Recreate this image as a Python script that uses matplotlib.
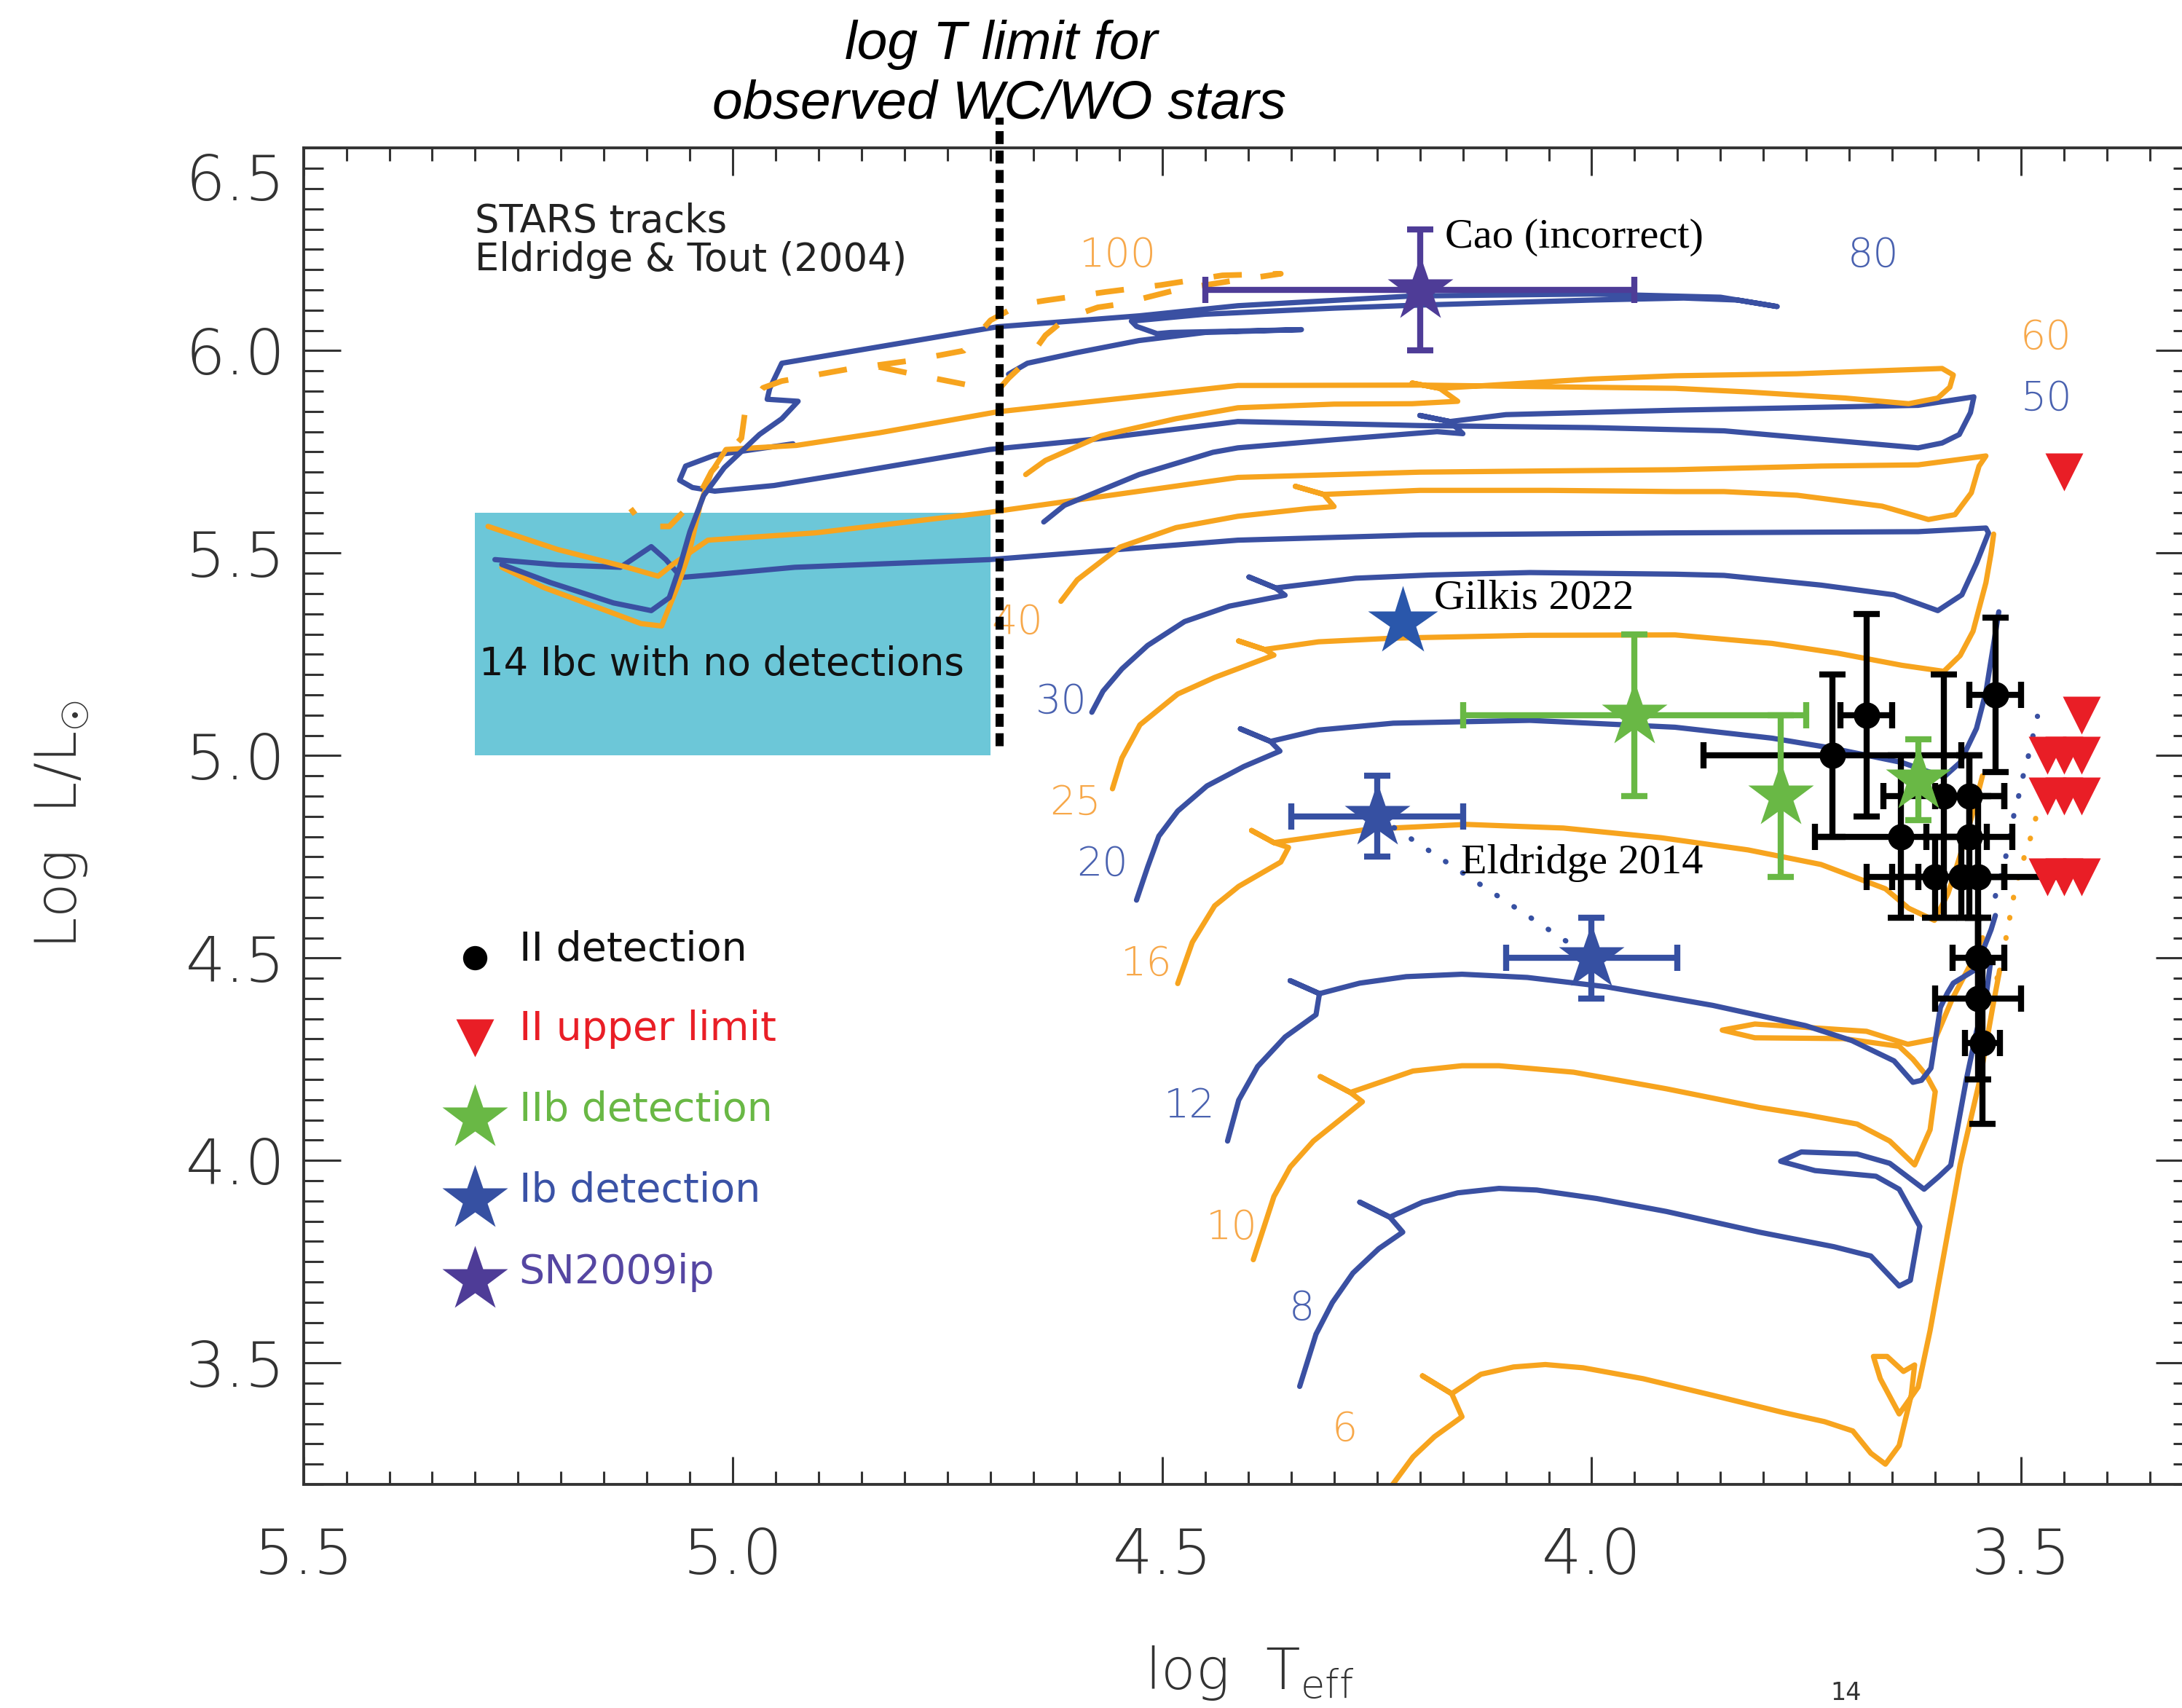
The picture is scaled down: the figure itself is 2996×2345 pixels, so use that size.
import matplotlib
matplotlib.use('Agg')
import matplotlib.pyplot as plt
from matplotlib.patches import Rectangle
from matplotlib.ticker import MultipleLocator, FixedLocator, FuncFormatter

plt.rcParams['font.family'] = ['DejaVu Sans']
plt.rcParams['font.weight'] = 'normal'
plt.rcParams['mathtext.fontset'] = 'custom'
plt.rcParams['mathtext.rm'] = 'DejaVu Sans:light'
plt.rcParams['mathtext.it'] = 'DejaVu Sans:italic:light'
plt.rcParams['mathtext.bf'] = 'DejaVu Sans:bold'

ORANGE = '#F7A41E'
BLUE = '#3A50A2'
BLUE_TXT = '#4A62B0'
ORANGE_TXT = '#F7A84A'
GREEN = '#69B845'
RED = '#E91E26'
PURPLE = '#4E3C97'
IB_BLUE = '#3650A2'
GILKIS_BLUE = '#2A57AB'
CYAN = '#6CC7D8'
GREY = '#333333'

# ---------------- STARS evolutionary tracks (log Teff, log L) ----------------
t6_T = [4.249, 4.232, 4.208, 4.183, 4.151, 4.163, 4.197, 4.163, 4.129, 4.091, 4.054, 4.010, 3.940, 3.859, 3.778, 3.729, 3.696, 3.675, 3.658, 3.642, 3.628, 3.624, 3.637, 3.656, 3.672, 3.664, 3.642, 3.620, 3.606, 3.571, 3.548, 3.533, 3.525]
t6_L = [3.150, 3.199, 3.268, 3.318, 3.367, 3.424, 3.468, 3.424, 3.472, 3.490, 3.496, 3.488, 3.461, 3.420, 3.378, 3.355, 3.332, 3.277, 3.250, 3.296, 3.420, 3.495, 3.479, 3.516, 3.516, 3.461, 3.374, 3.440, 3.580, 3.990, 4.200, 4.380, 4.470]

t8_T = [4.340, 4.321, 4.302, 4.278, 4.248, 4.220, 4.235, 4.270, 4.235, 4.197, 4.156, 4.108, 4.064, 3.994, 3.913, 3.805, 3.718, 3.675, 3.642, 3.629, 3.618, 3.642, 3.669, 3.740, 3.780, 3.756, 3.691, 3.653, 3.613, 3.596, 3.582, 3.564, 3.552, 3.541, 3.535]
t8_L = [3.442, 3.571, 3.649, 3.722, 3.782, 3.823, 3.860, 3.897, 3.860, 3.897, 3.920, 3.931, 3.927, 3.906, 3.874, 3.823, 3.787, 3.764, 3.690, 3.704, 3.837, 3.929, 3.961, 3.975, 3.998, 4.021, 4.016, 3.993, 3.929, 3.960, 3.988, 4.198, 4.318, 4.402, 4.500]

t10_T = [4.394, 4.370, 4.351, 4.324, 4.294, 4.267, 4.281, 4.316, 4.281, 4.208, 4.151, 4.108, 4.021, 3.913, 3.805, 3.751, 3.691, 3.653, 3.624, 3.606, 3.600, 3.610, 3.626, 3.642, 3.707, 3.810, 3.848, 3.810, 3.680, 3.632, 3.600, 3.580, 3.560, 3.545]
t10_L = [3.755, 3.911, 3.984, 4.048, 4.099, 4.145, 4.168, 4.207, 4.168, 4.221, 4.234, 4.234, 4.218, 4.177, 4.131, 4.113, 4.090, 4.048, 3.989, 4.076, 4.170, 4.209, 4.250, 4.282, 4.301, 4.303, 4.322, 4.337, 4.319, 4.287, 4.300, 4.400, 4.480, 4.550]

t12_T = [4.424, 4.411, 4.389, 4.357, 4.321, 4.317, 4.351, 4.317, 4.270, 4.216, 4.151, 4.075, 3.983, 3.859, 3.751, 3.697, 3.648, 3.626, 3.616, 3.605, 3.594, 3.586, 3.579, 3.552, 3.545, 3.535, 3.530]
t12_L = [4.048, 4.149, 4.232, 4.305, 4.360, 4.412, 4.444, 4.412, 4.438, 4.454, 4.460, 4.452, 4.429, 4.383, 4.333, 4.296, 4.246, 4.193, 4.198, 4.228, 4.378, 4.413, 4.438, 4.473, 4.516, 4.570, 4.605]

t16_T = [4.482, 4.465, 4.439, 4.411, 4.380, 4.362, 4.353, 4.370, 4.396, 4.370, 4.260, 4.146, 4.033, 3.919, 3.818, 3.733, 3.658, 3.631, 3.601, 3.585, 3.570, 3.556, 3.545]
t16_L = [4.437, 4.539, 4.629, 4.677, 4.715, 4.737, 4.773, 4.785, 4.815, 4.785, 4.818, 4.830, 4.821, 4.797, 4.767, 4.731, 4.671, 4.623, 4.593, 4.660, 4.760, 4.860, 4.950]

t20_T = [4.530, 4.517, 4.504, 4.482, 4.448, 4.405, 4.363, 4.374, 4.409, 4.374, 4.318, 4.231, 4.072, 3.903, 3.790, 3.722, 3.639, 3.590, 3.571, 3.552, 3.541, 3.526]
t20_L = [4.643, 4.725, 4.801, 4.863, 4.925, 4.973, 5.011, 5.035, 5.066, 5.035, 5.063, 5.080, 5.087, 5.070, 5.043, 5.019, 4.983, 4.947, 4.983, 5.067, 5.157, 5.355]

t25_T = [4.558, 4.547, 4.526, 4.482, 4.439, 4.370, 4.381, 4.411, 4.381, 4.318, 4.231, 4.072, 3.903, 3.790, 3.714, 3.639, 3.590, 3.571, 3.556, 3.541, 3.535, 3.532]
t25_L = [4.918, 4.994, 5.076, 5.152, 5.193, 5.248, 5.262, 5.283, 5.262, 5.281, 5.290, 5.297, 5.298, 5.277, 5.253, 5.223, 5.208, 5.247, 5.307, 5.427, 5.500, 5.547]

t30_T = [4.582, 4.569, 4.547, 4.517, 4.474, 4.422, 4.357, 4.368, 4.399, 4.368, 4.275, 4.188, 4.072, 3.903, 3.846, 3.733, 3.648, 3.597, 3.569, 3.552, 3.538, 3.541, 3.620, 3.903, 4.200, 4.412, 4.701, 4.928, 5.026, 5.060, 5.078, 5.095, 5.131, 5.204, 5.277]
t30_L = [5.107, 5.159, 5.214, 5.272, 5.331, 5.369, 5.396, 5.414, 5.441, 5.414, 5.438, 5.446, 5.452, 5.448, 5.445, 5.421, 5.397, 5.358, 5.397, 5.475, 5.550, 5.562, 5.553, 5.550, 5.545, 5.532, 5.484, 5.465, 5.446, 5.440, 5.484, 5.516, 5.465, 5.471, 5.484]

t40_T = [4.618, 4.599, 4.569, 4.549, 4.484, 4.412, 4.330, 4.300, 4.312, 4.345, 4.312, 4.200, 4.050, 3.903, 3.846, 3.761, 3.662, 3.608, 3.577, 3.558, 3.549, 3.541, 3.620, 3.733, 3.903, 4.200, 4.412, 4.701, 4.904, 5.029, 5.070, 5.087, 5.123, 5.204, 5.285]
t40_L = [5.381, 5.434, 5.483, 5.515, 5.563, 5.591, 5.610, 5.615, 5.645, 5.665, 5.645, 5.655, 5.655, 5.652, 5.652, 5.643, 5.616, 5.583, 5.595, 5.649, 5.715, 5.740, 5.718, 5.715, 5.706, 5.700, 5.687, 5.601, 5.550, 5.532, 5.472, 5.443, 5.465, 5.509, 5.566]

t50_T = [4.638, 4.614, 4.527, 4.441, 4.412, 4.300, 4.180, 4.150, 4.165, 4.200, 4.165, 4.100, 3.903, 3.620, 3.555, 3.559, 3.572, 3.592, 3.620, 3.733, 3.846, 4.000, 4.200, 4.412, 4.580, 4.701, 4.874, 4.952, 5.021, 5.047, 5.062, 5.055, 5.021, 4.930]
t50_L = [5.577, 5.618, 5.694, 5.749, 5.760, 5.780, 5.800, 5.795, 5.825, 5.840, 5.825, 5.842, 5.853, 5.865, 5.886, 5.847, 5.793, 5.772, 5.760, 5.781, 5.802, 5.810, 5.815, 5.825, 5.781, 5.756, 5.694, 5.667, 5.653, 5.662, 5.680, 5.715, 5.742, 5.770]

t60_T = [4.659, 4.636, 4.571, 4.484, 4.412, 4.300, 4.209, 4.156, 4.177, 4.209, 4.177, 4.000, 3.903, 3.761, 3.592, 3.579, 3.583, 3.597, 3.631, 3.705, 3.818, 3.903, 4.200, 4.412, 4.527, 4.692, 4.830, 4.926, 5.008, 5.025, 5.038, 5.051, 5.064, 5.083, 5.107, 5.155, 5.220, 5.269]
t60_L = [5.694, 5.729, 5.790, 5.832, 5.859, 5.868, 5.869, 5.875, 5.907, 5.920, 5.907, 5.930, 5.938, 5.943, 5.956, 5.940, 5.910, 5.883, 5.869, 5.883, 5.898, 5.907, 5.915, 5.914, 5.887, 5.849, 5.797, 5.766, 5.756, 5.700, 5.620, 5.500, 5.420, 5.320, 5.326, 5.364, 5.415, 5.465]

t80_T = [4.679, 4.657, 4.600, 4.527, 4.450, 4.338, 4.420, 4.490, 4.506, 4.530, 4.536, 4.450, 4.300, 4.209, 4.000, 3.893, 3.830, 3.784, 3.850, 4.000, 4.209, 4.412, 4.527, 4.692, 4.943, 4.957, 4.960, 4.924, 4.943, 4.969, 5.010, 5.034, 5.050, 5.062, 5.074, 5.095, 5.139, 5.212, 5.269]
t80_L = [5.942, 5.969, 5.995, 6.025, 6.045, 6.052, 6.048, 6.045, 6.042, 6.060, 6.073, 6.090, 6.105, 6.112, 6.125, 6.130, 6.125, 6.109, 6.132, 6.140, 6.135, 6.111, 6.086, 6.059, 5.969, 5.907, 5.880, 5.875, 5.832, 5.793, 5.711, 5.642, 5.553, 5.465, 5.390, 5.358, 5.377, 5.427, 5.472]

t100_T = [4.690, 4.679, 4.657, 4.636, 4.612, 4.575, 4.549, 4.480, 4.420, 4.362, 4.430, 4.502, 4.566, 4.636, 4.666, 4.700, 4.731, 4.791, 4.867, 4.943, 4.965, 4.986, 4.990, 5.025, 5.040, 5.074, 5.103, 5.119]
t100_L = [5.905, 5.932, 5.976, 6.038, 6.080, 6.107, 6.115, 6.152, 6.172, 6.190, 6.186, 6.162, 6.145, 6.124, 6.114, 6.075, 6.000, 5.976, 5.954, 5.925, 5.908, 5.846, 5.784, 5.701, 5.640, 5.566, 5.566, 5.610]
t100b_T = [4.830, 4.783, 4.716, 4.690]
t100b_L = [5.960, 5.939, 5.911, 5.905]

dotted_blue_T = [3.530, 3.518, 3.509, 3.503, 3.498, 3.492, 3.481]
dotted_blue_L = [4.653, 4.749, 4.848, 4.899, 4.947, 4.995, 5.097]
dotted_orange_T = [3.528, 3.518, 3.507, 3.494, 3.486, 3.481]
dotted_orange_L = [4.450, 4.545, 4.671, 4.767, 4.815, 4.866]

track_masses = ['6', '8', '10', '12', '16', '20', '25', '30', '40', '50', '60', '80', '100']
label_T = [4.288, 4.338, 4.419, 4.468, 4.518, 4.570, 4.601, 4.618, 4.669, 3.471, 3.471, 3.672, 4.552]
label_L = [3.335, 3.634, 3.834, 4.133, 4.484, 4.731, 4.882, 5.133, 5.329, 5.880, 6.031, 6.234, 6.234]
label_is_orange = [True, False, True, False, True, False, True, False, True, False, True, False, True]

# ---------------- progenitor data ----------------
ii_T = [3.72, 3.68, 3.53, 3.59, 3.56, 3.64, 3.56, 3.60, 3.57, 3.55, 3.55, 3.55, 3.545]
ii_L = [5.00, 5.10, 5.15, 4.90, 4.90, 4.80, 4.80, 4.70, 4.70, 4.70, 4.50, 4.40, 4.29]
ii_xerr = [0.15, 0.03, 0.03, 0.07, 0.04, 0.10, 0.05, 0.08, 0.05, 0.10, 0.03, 0.05, 0.02]
ii_yerr = [0.20, 0.25, 0.19, 0.30, 0.10, 0.20, 0.20, 0.10, 0.10, 0.20, 0.10, 0.20, 0.20]

ul_T = [3.45, 3.43, 3.47, 3.45, 3.43, 3.47, 3.45, 3.43, 3.47, 3.45, 3.43]
ul_L = [5.70, 5.10, 5.00, 5.00, 5.00, 4.90, 4.90, 4.90, 4.70, 4.70, 4.70]

iib_T = [3.95, 3.78, 3.62]
iib_L = [5.10, 4.90, 4.94]
iib_xerr = [0.20, 0.0, 0.0]
iib_yerr = [0.20, 0.20, 0.10]

ib_T = [4.25, 4.00]
ib_L = [4.85, 4.50]
ib_xerr = [0.10, 0.10]
ib_yerr = [0.10, 0.10]

gilkis_T = [4.22]
gilkis_L = [5.33]

cao_T = [4.20]
cao_L = [6.15]
cao_xerr = [0.25]
cao_yerr = [0.15]

wcwo_logT = 4.69
box_T = [4.70, 5.30]
box_L = [5.00, 5.60]

legend_labels = ['II detection', 'II upper limit', 'IIb detection', 'Ib detection', 'SN2009ip']

# ---------------- figure ----------------
fig = plt.figure(figsize=(2996 / 200, 2345 / 200), dpi=200)
ax = fig.add_axes([0.13905, 0.13092, 0.86595, 0.78230])
ax.set_xlim(5.5, 3.3)
ax.set_ylim(3.2, 6.5)

for s in ax.spines.values():
    s.set_linewidth(1.4)
    s.set_color(GREY)

ax.xaxis.set_major_locator(MultipleLocator(0.5))
ax.xaxis.set_minor_locator(MultipleLocator(0.05))
ax.yaxis.set_major_locator(FixedLocator([3.5, 4.0, 4.5, 5.0, 5.5, 6.0, 6.5]))
ax.yaxis.set_minor_locator(MultipleLocator(0.05))
ax.xaxis.set_major_formatter(FuncFormatter(lambda v, p: '%.1f' % v))
ax.yaxis.set_major_formatter(FuncFormatter(lambda v, p: '' if v > 6.4 else '%.1f' % v))
ax.tick_params(axis='x', which='major', direction='in', length=13.7, width=1.1,
               top=True, bottom=True, pad=21, labelsize=31, colors=GREY)
ax.tick_params(axis='x', which='minor', direction='in', length=6.5, width=1.1,
               top=True, bottom=True, colors=GREY)
ax.tick_params(axis='y', which='major', direction='in', length=18.4, width=1.1,
               left=True, right=True, pad=9, labelsize=31, colors=GREY)
ax.tick_params(axis='y', which='minor', direction='in', length=9.7, width=1.1,
               left=True, right=True, colors=GREY)
for lab in ax.get_xticklabels() + ax.get_yticklabels():
    lab.set_fontweight('light')
ax.text(-0.0095, 6.415, '6.5', transform=ax.get_yaxis_transform(), ha='right',
        va='center', fontsize=31, color=GREY, clip_on=False, fontweight='light')

# cyan box
ax.add_patch(Rectangle((box_T[0], box_L[0]), box_T[1] - box_T[0], box_L[1] - box_L[0],
                       facecolor=CYAN, edgecolor='none', zorder=1))
ax.text(5.295, 5.199, '14 Ibc with no detections', fontsize=19, color='#111111',
        ha='left', va='baseline', zorder=3)

# tracks
tracks = [
    (t6_T, t6_L, ORANGE), (t8_T, t8_L, BLUE), (t10_T, t10_L, ORANGE),
    (t12_T, t12_L, BLUE), (t16_T, t16_L, ORANGE), (t20_T, t20_L, BLUE),
    (t25_T, t25_L, ORANGE), (t30_T, t30_L, BLUE), (t40_T, t40_L, ORANGE),
    (t50_T, t50_L, BLUE), (t60_T, t60_L, ORANGE), (t80_T, t80_L, BLUE),
]
for T, L, c in tracks:
    ax.plot(T, L, color=c, lw=2.6, solid_joinstyle='round', solid_capstyle='round', zorder=2)
for T, L in [(t100_T, t100_L), (t100b_T, t100b_L)]:
    ax.plot(T, L, color=ORANGE, lw=2.8, ls=(0, (5.0, 5.5)), zorder=2)
ax.plot(dotted_blue_T, dotted_blue_L, color=BLUE, lw=2.6, ls=(0, (0.1, 3.8)),
        dash_capstyle='round', zorder=2)
ax.plot(dotted_orange_T, dotted_orange_L, color=ORANGE, lw=2.6, ls=(0, (0.1, 3.8)),
        dash_capstyle='round', zorder=2)

for m, x, y, is_or in zip(track_masses, label_T, label_L, label_is_orange):
    col = ORANGE_TXT if is_or else BLUE_TXT
    ax.text(x, y, m, color=col, fontsize=20, ha='center', va='center', zorder=3,
            fontweight='light')

ax.text(5.30, 6.292, 'STARS tracks', fontsize=19, color='#222222', ha='left', va='baseline')
ax.text(5.30, 6.197, 'Eldridge & Tout (2004)', fontsize=19, color='#222222', ha='left', va='baseline')

# WC/WO limit
ax.plot([wcwo_logT, wcwo_logT], [5.024, 6.576], color='black', lw=4.0,
        ls=(0, (1.6, 0.8)), clip_on=False, zorder=6)

# data points
ebk = dict(fmt='none', elinewidth=3.0, capsize=6.5, capthick=3.0, zorder=7)
ax.errorbar(ii_T, ii_L, xerr=ii_xerr, yerr=ii_yerr, ecolor='black', **ebk)
ax.plot(ii_T, ii_L, 'o', color='black', ms=12, zorder=8)
ax.plot(ul_T, ul_L, 'v', color=RED, ms=18.5, mec='none', zorder=8)
ax.errorbar(iib_T, iib_L, xerr=iib_xerr, yerr=iib_yerr, ecolor=GREEN, **ebk)
ax.plot(iib_T, iib_L, '*', color=GREEN, ms=34, mec='none', zorder=8)
ax.plot(ib_T, ib_L, color=IB_BLUE, lw=2.6, ls=(0, (0.1, 3.8)), dash_capstyle='round', zorder=7)
ax.errorbar(ib_T, ib_L, xerr=ib_xerr, yerr=ib_yerr, ecolor=IB_BLUE, **ebk)
ax.plot(ib_T, ib_L, '*', color=IB_BLUE, ms=34, mec='none', zorder=8)
ax.plot(gilkis_T, gilkis_L, '*', color=GILKIS_BLUE, ms=36, mec='none', zorder=8)
ax.errorbar(cao_T, cao_L, xerr=cao_xerr, yerr=cao_yerr, ecolor=PURPLE, **ebk)
ax.plot(cao_T, cao_L, '*', color=PURPLE, ms=34, mec='none', zorder=8)

serif = ['Liberation Serif', 'DejaVu Serif']
ax.text(4.171, 6.279, 'Cao (incorrect)', family=serif, fontsize=21,
        color='black', ha='left', va='center', zorder=9)
ax.text(4.184, 5.388, 'Gilkis 2022', family=serif, fontsize=21,
        color='black', ha='left', va='center', zorder=9)
ax.text(4.152, 4.735, 'Eldridge 2014', family=serif, fontsize=21,
        color='black', ha='left', va='center', zorder=9)

# legend (drawn by hand as in the original)
leg_marker_L = [4.500, 4.302, 4.105, 3.906, 3.706]
leg_text_L = [4.494, 4.298, 4.098, 3.899, 3.696]
leg_style = [('o', 'black', 12), ('v', RED, 18.5), ('*', GREEN, 34), ('*', IB_BLUE, 34), ('*', PURPLE, 34)]
leg_text_col = ['#111111', RED, GREEN, '#3A52A6', '#5546A2']
for lab, ym, yt, (mk, mc, ms), tc in zip(legend_labels, leg_marker_L, leg_text_L, leg_style, leg_text_col):
    ax.plot([5.30], [ym], mk, color=mc, ms=ms, mec='none', zorder=8)
    ax.text(5.249, yt, lab, color=tc, fontsize=20, ha='left', va='baseline', zorder=9)

# axis labels
fig.text(0.0287, 0.5173, r'Log  L/L$_{\odot}$', rotation=90, ha='center', va='center',
         fontsize=28, color=GREY, fontweight='light')
fig.text(0.5247, 0.0111, r'log  T$_{\rm eff}$', ha='left', va='baseline',
         fontsize=28, color=GREY, fontweight='light')

# title text above the dashed line
sans_i = ['Liberation Sans', 'DejaVu Sans']
fig.text(1375 / 2996, 0.9655, 'log T limit for', family=sans_i, style='italic',
         fontsize=27, ha='center', va='baseline', color='black')
fig.text(1372 / 2996, 0.9305, 'observed WC/WO stars', family=sans_i, style='italic',
         fontsize=27, ha='center', va='baseline', color='black')

fig.text(2535 / 2996, 0.0015, '14', fontsize=12, ha='center', va='bottom', color=GREY)

fig.savefig('out.png', dpi=200)
